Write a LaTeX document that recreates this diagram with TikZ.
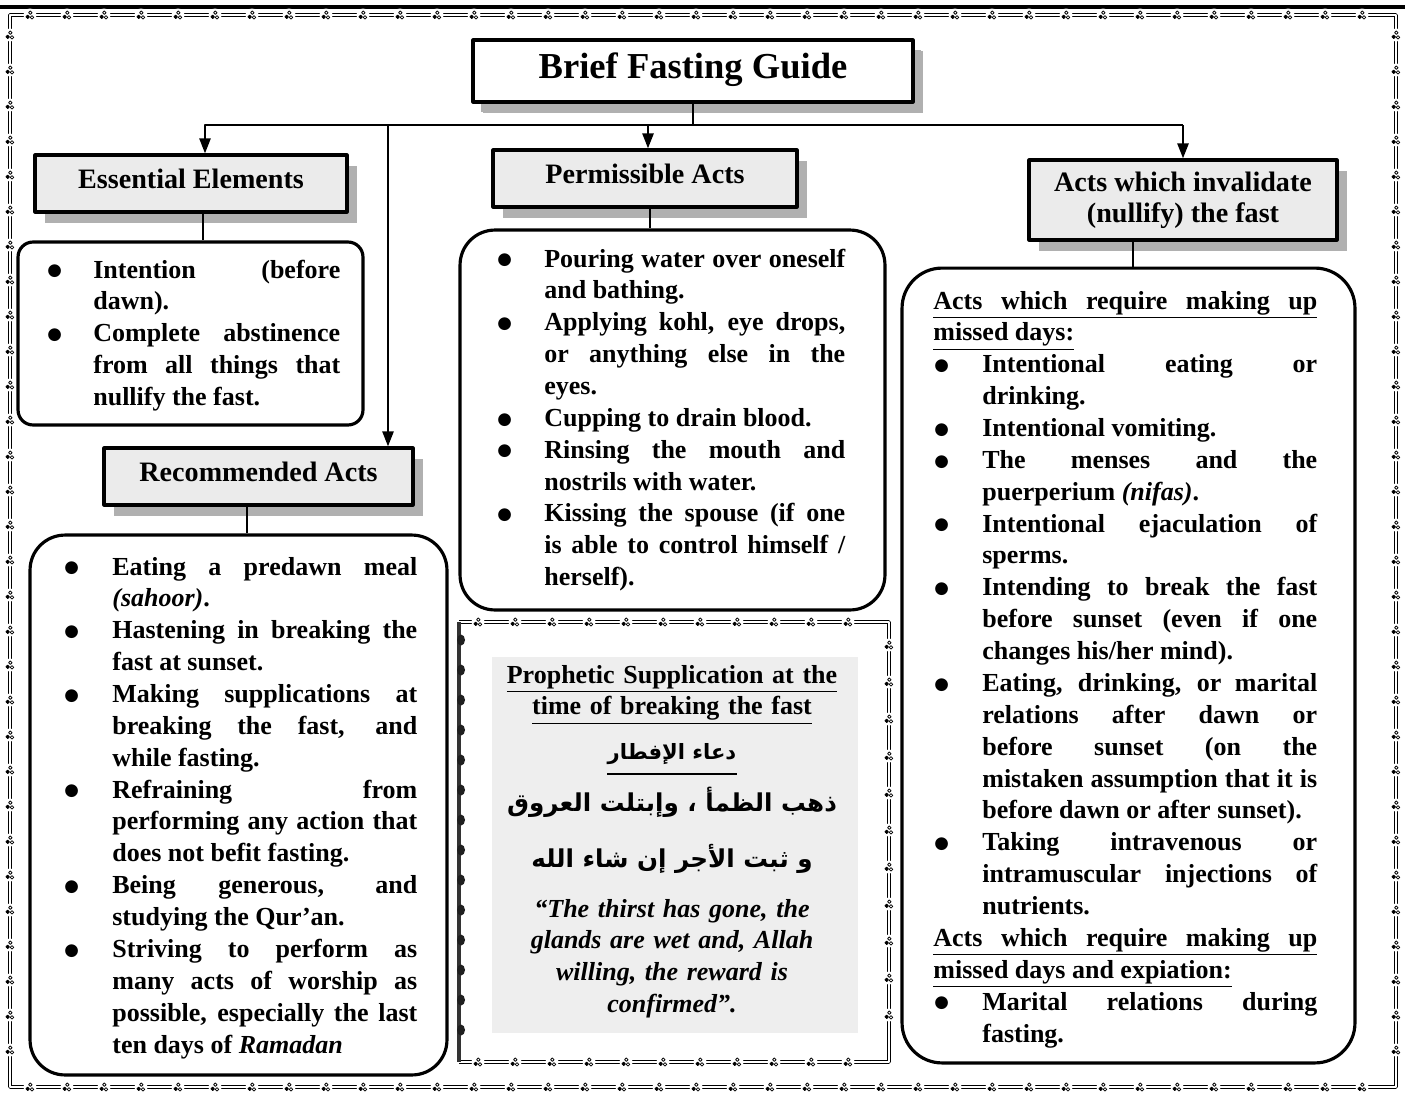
\documentclass[tikz,border=0pt]{standalone}
\usepackage{fontspec}
\setmainfont{Liberation Serif}
\newfontfamily\arabicfont[Script=Arabic]{DejaVu Sans}
\newfontfamily\symfont{DejaVu Sans}
\TeXXeTstate=1
\usetikzlibrary{arrows.meta,shadows}
\newlength\myhang
\newlength\myboff
\newcommand\mybullet{\raisebox{1.3pt}{\symfont\fontsize{9.5}{9.5}\selectfont ●}}
\newcommand\itmbody{\hangindent=\myhang\hangafter=1\hbox to\myhang{\hskip\myboff\mybullet\hfil}\ignorespaces}
\newcommand\itmA{\noindent\itmbody}
\newcommand\itm{\par\noindent\itmbody}
\newcommand\bodyfont{\fontsize{14.8}{18.14}\selectfont\bfseries\tolerance=10000\hbadness=10000\emergencystretch=0pt}
\newcommand\ulbox[1]{\underline{\hbox to\hsize{#1}}}
\tikzset{
  conn/.style={line width=1.4pt},
  arr/.style={conn, -{Triangle[length=0.3cm, width=0.22cm]}},
  hdr/.style={draw, line width=1.8pt, fill=gray!16, inner sep=0pt,
    font=\fontsize{16}{17.5}\selectfont\bfseries,
    drop shadow={shadow xshift=0.2cm, shadow yshift=-0.22cm, fill=gray!62, opacity=1}},
  hdrone/.style={hdr, text height=10.5pt, text depth=4.5pt},
  ttl/.style={hdr, fill=white, font=\fontsize{20.8}{24}\selectfont\bfseries,
    text height=14pt, text depth=5pt,
    drop shadow={shadow xshift=0.16cm, shadow yshift=-0.2cm, fill=gray!62, opacity=1}},
  bodybox/.style={draw, line width=1.8pt, inner sep=0pt, fill=white},
  txt/.style={anchor=base west, inner sep=0pt, align=justify, font=\bodyfont},
  arab/.style={anchor=base, inner sep=0pt, font=\fontsize{14}{17}\selectfont\arabicfont\bfseries},
  orn/.pic={
    \fill[white] (0,0) circle[radius=0.13cm];
    \draw[line width=0.45pt, fill=black] (-2.3,1.8) circle[radius=0.035cm];
    \draw[line width=0.45pt, fill=white] (2.0,2.4) circle[radius=0.035cm];
    \draw[line width=0.45pt, fill=white] (0.3,-2.3) circle[radius=0.035cm];
  },
  dbl/.style={line width=0.4pt, double, double distance=1.3pt},
}
\begin{document}
\begin{tikzpicture}[x=0.02cm, y=-0.02cm, line join=round]
\useasboundingbox (0,0) rectangle (1405,1092);
\fill[white] (0,0) rectangle (1405,1092);
% page frame
\draw[line width=1.8pt] (0,7) -- (1405,7);
\draw[dbl] (10,15) rectangle (1396,1087);
\foreach \x in {30,67,...,1380} { \pic at (\x,15) {orn}; \pic at (\x,1087) {orn}; }
\foreach \y in {35,70,...,1070} { \pic at (10,\y) {orn}; \pic at (1396,\y) {orn}; }

% title and headers
\node[ttl, minimum width=8.8cm, minimum height=1.24cm] (title) at (693,71) {Brief Fasting Guide};
\node[hdrone, minimum width=6.24cm, minimum height=1.14cm] (ess) at (191,183.5) {Essential Elements};
\node[hdrone, minimum width=6.08cm, minimum height=1.14cm] (per) at (645,178.5) {Permissible Acts};
\node[hdrone, minimum width=6.18cm, minimum height=1.14cm] (rec) at (258.5,476.5) {Recommended Acts};
\node[hdr, align=center, minimum width=6.16cm, minimum height=1.6cm] (inv) at (1183,200) {Acts which invalidate\\(nullify) the fast};

\node[bodybox, rounded corners=0.3cm, minimum width=6.9cm, minimum height=3.66cm] (essB) at (190.5,333.5) {};
\node[bodybox, rounded corners=0.7cm, minimum width=8.34cm, minimum height=10.8cm] (recB) at (238.5,805) {};
\node[bodybox, rounded corners=0.7cm, minimum width=8.5cm, minimum height=7.6cm] (perB) at (672.5,420) {};
\node[bodybox, rounded corners=0.8cm, minimum width=9.06cm, minimum height=15.9cm] (invB) at (1128.5,665.5) {};

\coordinate (jL) at (205,125);
\coordinate (jM) at (388,125);
\coordinate (jP) at (648,125);
\coordinate (jR) at (1183,125);
\draw[conn] (title.south) -- (title.south |- jL);
\draw[arr] (jR) -- (jL) -- (jL |- ess.north);
\draw[arr] (jM) -- (jM |- rec.north);
\draw[arr] (jP) -- (jP |- per.north);
\draw[arr] (jR) -- (jR |- inv.north);

\coordinate (cE) at (203,0);
\coordinate (cR) at (247,0);
\coordinate (cP) at (650,0);
\coordinate (cI) at (1133,0);
\draw[conn] (ess.south -| cE) -- (essB.north -| cE);
\draw[conn] (rec.south -| cR) -- (recB.north -| cR);
\draw[conn] (per.south -| cP) -- (perB.north -| cP);
\draw[conn] (inv.south -| cI) -- (invB.north -| cI);

% texts
\node[txt, text width=5.9cm] (essT) at (45,278) {\setlength\myhang{0.96cm}\setlength\myboff{0.04cm}%
\itmA Intention (before\linebreak dawn).
\itm Complete abstinence\linebreak from all things that\linebreak nullify the fast.\par};

\node[txt, text width=7.1cm] (recT) at (62,575) {\setlength\myhang{1.0cm}\setlength\myboff{0.04cm}%
\itmA Eating a predawn meal\linebreak \textit{(sahoor)}.
\itm Hastening in breaking the\linebreak fast at sunset.
\itm Making supplications at\linebreak breaking the fast, and\linebreak while fasting.
\itm Refraining from\linebreak performing any action that\linebreak does not befit fasting.
\itm Being generous, and\linebreak studying the Qur’an.
\itm Striving to perform as\linebreak many acts of worship as\linebreak possible, especially the last\linebreak ten days of \textit{Ramadan}\par};

\node[txt, text width=7.0cm] (perT) at (495,267) {\setlength\myhang{0.98cm}\setlength\myboff{0.04cm}%
\itmA Pouring water over oneself\linebreak and bathing.
\itm Applying kohl, eye drops,\linebreak or anything else in the\linebreak eyes.
\itm Cupping to drain blood.
\itm Rinsing the mouth and\linebreak nostrils with water.
\itm Kissing the spouse (if one\linebreak is able to control himself /\linebreak herself).\par};

\node[txt, text width=7.68cm] (invT) at (933,309) {\setlength\myhang{0.98cm}\setlength\myboff{0.02cm}%
\noindent\ulbox{Acts which require making up}\par
\noindent\underline{missed days:}
\itm Intentional eating or\linebreak drinking.
\itm Intentional vomiting.
\itm The menses and the\linebreak puerperium \textit{(nifas)}.
\itm Intentional ejaculation of\linebreak sperms.
\itm Intending to break the fast\linebreak before sunset (even if one\linebreak changes his/her mind).
\itm Eating, drinking, or marital\linebreak relations after dawn or\linebreak before sunset (on the\linebreak mistaken assumption that it is\linebreak before dawn or after sunset).
\itm Taking intravenous or\linebreak intramuscular injections of\linebreak nutrients.
\par\noindent\ulbox{Acts which require making up}\par
\noindent\underline{missed days and expiation:}
\itm Marital relations during\linebreak fasting.\par};

% supplication panel
\fill[gray!13] (492,657) rectangle (858,1033);
\draw[dbl] (459,622) -- (889,622) -- (889,1062) -- (459,1062);
\foreach \x in {478,515,...,880} { \pic at (\x,622) {orn}; \pic at (\x,1062) {orn}; }
\foreach \y in {645,682,...,1050} { \pic at (889,\y) {orn}; }
\draw[line width=2.5pt, gray!40!black] (459,622) -- (459,1062);
\foreach \y in {640,670,...,1050} { \fill[gray!25!black] (461,\y) ellipse[x radius=0.08cm, y radius=0.11cm]; }

\node[anchor=base, inner sep=0pt, text width=8cm, align=center, font=\bodyfont] (supH) at (672,683)
  {\underline{Prophetic Supplication at the}\\\underline{time of breaking the fast}};
\node[arab, font=\fontsize{12}{14}\selectfont\arabicfont\bfseries] (arH) at (672,759) {\beginR دعاء الإفطار\endR};
\coordinate (ulL) at (607,774);
\coordinate (ulR) at (737,774);
\draw[line width=1.6pt] (ulL) -- (ulR);
\node[arab] (ar1) at (672,811) {\beginR ذهب الظمأ ، وإبتلت العروق\endR};
\node[arab] (ar2) at (672,867) {\beginR و ثبت الأجر إن شاء الله\endR};
\node[anchor=base, inner sep=0pt, text width=7cm, align=center, font=\bodyfont\itshape] (quote) at (672,917)
  {“The thirst has gone, the\\glands are wet and, Allah\\willing, the reward is\\confirmed”.};
\end{tikzpicture}
\end{document}
